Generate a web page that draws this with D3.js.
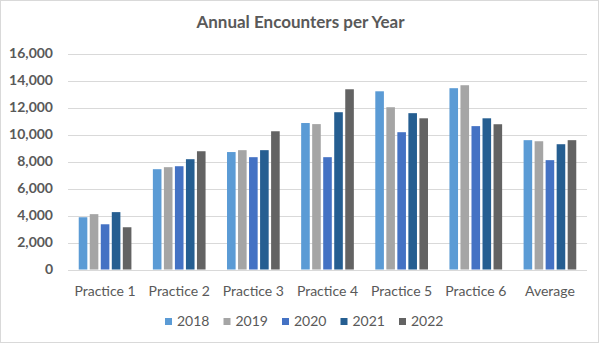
<!DOCTYPE html>
<html>
<head>
<meta charset="utf-8">
<script src="https://cdn.jsdelivr.net/npm/d3@7"></script>
<style>
  body { margin: 0; background: #fff; }
  text { font-family: Lato, 'Noto Sans', sans-serif; fill: #595959; }
</style>
</head>
<body>
<div id="chart"></div>
<script>
const categories = ['Practice 1', 'Practice 2', 'Practice 3', 'Practice 4', 'Practice 5', 'Practice 6', 'Average'];
const years = ['2018', '2019', '2020', '2021', '2022'];
const values2018 = [3870, 7430, 8700, 10850, 13200, 13430, 9580];
const values2019 = [4100, 7580, 8840, 10770, 12020, 13650, 9500];
const values2020 = [3350, 7650, 8320, 8320, 10170, 10620, 8100];
const values2021 = [4250, 8170, 8840, 11650, 11580, 11200, 9280];
const values2022 = [3130, 8760, 10240, 13350, 11200, 10760, 9580];
const yTicks = [0, 2000, 4000, 6000, 8000, 10000, 12000, 14000, 16000];

const seriesValues = [values2018, values2019, values2020, values2021, values2022];
const colors = ['#5b9bd5', '#a5a5a5', '#4472c4', '#255e91', '#636363'];

const W = 604, H = 347;
const margin = { top: 53.5, right: 17, bottom: 77.5, left: 68 };

const svg = d3.select('#chart')
  .append('svg')
  .attr('width', W)
  .attr('height', H);

// chart border
svg.append('rect')
  .attr('x', 0.5).attr('y', 0.5)
  .attr('width', 598).attr('height', 342)
  .attr('fill', '#fff')
  .attr('stroke', '#d9d9d9');

svg.append('text')
  .attr('x', 300.5)
  .attr('y', 28)
  .attr('text-anchor', 'middle')
  .style('font-size', '17px')
  .style('font-weight', 'bold')
  .text('Annual Encounters per Year');

const x0 = d3.scaleBand()
  .domain(categories)
  .range([margin.left, W - margin.right]);

const bw = x0.bandwidth();
const x1 = d3.scaleBand()
  .domain(years)
  .range([bw * 0.112, bw * 0.888])
  .padding(0.22);

const y = d3.scaleLinear()
  .domain([0, 16000])
  .range([H - margin.bottom, margin.top]);

// gridlines
svg.append('g')
  .selectAll('line')
  .data(yTicks)
  .join('line')
  .attr('x1', margin.left)
  .attr('x2', W - margin.right)
  .attr('y1', d => Math.round(y(d)) + 0.5)
  .attr('y2', d => Math.round(y(d)) + 0.5)
  .attr('stroke', '#d9d9d9')
  .attr('stroke-width', 1);

// y labels
svg.append('g')
  .selectAll('text')
  .data(yTicks)
  .join('text')
  .attr('x', 53)
  .attr('y', d => y(d))
  .attr('dy', '0.35em')
  .attr('text-anchor', 'end')
  .style('font-size', '14px')
  .style('font-weight', 'bold')
  .text(d => d3.format(',')(d));

// bars
const groups = svg.append('g')
  .selectAll('g')
  .data(categories)
  .join('g')
  .attr('transform', d => `translate(${x0(d)},0)`);

groups.selectAll('rect')
  .data((c, i) => years.map((yr, j) => ({ year: yr, value: seriesValues[j][i], color: colors[j] })))
  .join('rect')
  .attr('x', d => x1(d.year))
  .attr('width', x1.bandwidth())
  .attr('y', d => y(d.value))
  .attr('height', d => y(0) - y(d.value))
  .attr('fill', d => d.color);

// x labels
svg.append('g')
  .selectAll('text')
  .data(categories)
  .join('text')
  .attr('x', d => x0(d) + bw / 2)
  .attr('y', 296)
  .attr('text-anchor', 'middle')
  .style('font-size', '14px')
  .text(d => d);

// legend
const pitch = 58.5;
const legend = svg.append('g')
  .attr('transform', `translate(165,0)`);

const item = legend.selectAll('g')
  .data(years)
  .join('g')
  .attr('transform', (d, i) => `translate(${i * pitch},0)`);

item.append('rect')
  .attr('x', 0).attr('y', 318)
  .attr('width', 7).attr('height', 7)
  .attr('fill', (d, i) => colors[i]);

item.append('text')
  .attr('x', 12)
  .attr('y', 321.5)
  .attr('dy', '0.35em')
  .style('font-size', '14px')
  .text(d => d);
</script>
</body>
</html>
